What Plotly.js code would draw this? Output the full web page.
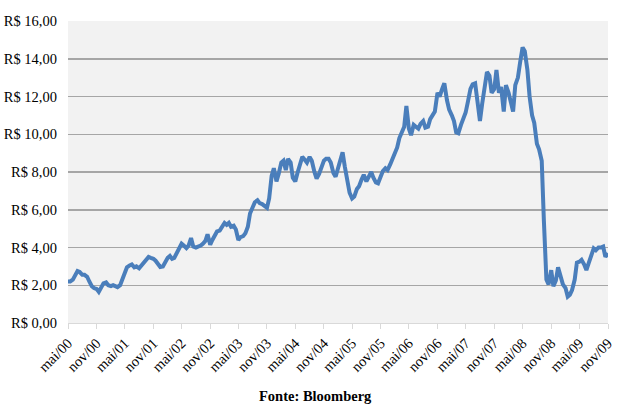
<!DOCTYPE html>
<html>
<head>
<meta charset="utf-8">
<script src="https://cdn.plot.ly/plotly-3.0.1.min.js"></script>
<style>html,body{margin:0;padding:0;background:#fff;}#chart{width:624px;height:404px;}</style>
</head>
<body>
<div id="chart"></div>
<script>
// Semi-monthly observation dates (1st and 15th of each month), May 2000 - Nov 2009
const dates = [
"2000-05-01","2000-05-15","2000-06-01","2000-06-15","2000-07-01","2000-07-15","2000-08-01","2000-08-15","2000-09-01","2000-09-15","2000-10-01","2000-10-15","2000-11-01","2000-11-15","2000-12-01","2000-12-15",
"2001-01-01","2001-01-15","2001-02-01","2001-02-15","2001-03-01","2001-03-15","2001-04-01","2001-04-15","2001-05-01","2001-05-15","2001-06-01","2001-06-15","2001-07-01","2001-07-15","2001-08-01","2001-08-15","2001-09-01","2001-09-15","2001-10-01","2001-10-15","2001-11-01","2001-11-15","2001-12-01","2001-12-15",
"2002-01-01","2002-01-15","2002-02-01","2002-02-15","2002-03-01","2002-03-15","2002-04-01","2002-04-15","2002-05-01","2002-05-15","2002-06-01","2002-06-15","2002-07-01","2002-07-15","2002-08-01","2002-08-15","2002-09-01","2002-09-15","2002-10-01","2002-10-15","2002-11-01","2002-11-15","2002-12-01","2002-12-15",
"2003-01-01","2003-01-15","2003-02-01","2003-02-15","2003-03-01","2003-03-15","2003-04-01","2003-04-15","2003-05-01","2003-05-15","2003-06-01","2003-06-15","2003-07-01","2003-07-15","2003-08-01","2003-08-15","2003-09-01","2003-09-15","2003-10-01","2003-10-15","2003-11-01","2003-11-15","2003-12-01","2003-12-15",
"2004-01-01","2004-01-15","2004-02-01","2004-02-15","2004-03-01","2004-03-15","2004-04-01","2004-04-15","2004-05-01","2004-05-15","2004-06-01","2004-06-15","2004-07-01","2004-07-15","2004-08-01","2004-08-15","2004-09-01","2004-09-15","2004-10-01","2004-10-15","2004-11-01","2004-11-15","2004-12-01","2004-12-15",
"2005-01-01","2005-01-15","2005-02-01","2005-02-15","2005-03-01","2005-03-15","2005-04-01","2005-04-15","2005-05-01","2005-05-15","2005-06-01","2005-06-15","2005-07-01","2005-07-15","2005-08-01","2005-08-15","2005-09-01","2005-09-15","2005-10-01","2005-10-15","2005-11-01","2005-11-15","2005-12-01","2005-12-15",
"2006-01-01","2006-01-15","2006-02-01","2006-02-15","2006-03-01","2006-03-15","2006-04-01","2006-04-15","2006-05-01","2006-05-15","2006-06-01","2006-06-15","2006-07-01","2006-07-15","2006-08-01","2006-08-15","2006-09-01","2006-09-15","2006-10-01","2006-10-15","2006-11-01","2006-11-15","2006-12-01","2006-12-15",
"2007-01-01","2007-01-15","2007-02-01","2007-02-15","2007-03-01","2007-03-15","2007-04-01","2007-04-15","2007-05-01","2007-05-15","2007-06-01","2007-06-15","2007-07-01","2007-07-15","2007-08-01","2007-08-15","2007-09-01","2007-09-15","2007-10-01","2007-10-15","2007-11-01","2007-11-15","2007-12-01","2007-12-15",
"2008-01-01","2008-01-15","2008-02-01","2008-02-15","2008-03-01","2008-03-15","2008-04-01","2008-04-15","2008-05-01","2008-05-15","2008-06-01","2008-06-15","2008-07-01","2008-07-15","2008-08-01","2008-08-15","2008-09-01","2008-09-15","2008-10-01","2008-10-15","2008-11-01","2008-11-15","2008-12-01","2008-12-15",
"2009-01-01","2009-01-15","2009-02-01","2009-02-15","2009-03-01","2009-03-15","2009-04-01","2009-04-15","2009-05-01","2009-05-15","2009-06-01","2009-06-15","2009-07-01","2009-07-15","2009-08-01","2009-08-15","2009-09-01","2009-09-15","2009-10-01","2009-10-15","2009-11-01"
];

// Price (R$)
const prices = [
2.2,2.2,2.3,2.5,2.75,2.7,2.55,2.55,2.45,2.2,1.95,1.85,1.8,1.65,1.85,2.1,
2.15,2.0,1.95,2.0,1.95,1.9,2.0,2.3,2.65,2.95,3.05,3.1,2.95,3.0,2.9,3.05,3.2,3.35,3.5,3.45,3.4,3.3,3.1,2.97,
3.0,3.25,3.45,3.55,3.4,3.45,3.7,3.95,4.2,4.1,3.97,4.1,4.5,4.05,4.0,4.05,4.1,4.2,4.35,4.7,4.15,4.4,4.7,4.85,
4.9,5.1,5.3,5.2,5.3,5.1,5.15,4.95,4.4,4.55,4.6,4.75,5.1,5.8,6.1,6.4,6.5,6.35,6.3,6.2,6.1,6.6,7.8,8.2,
7.5,7.9,8.5,8.6,8.1,8.7,8.5,7.7,7.5,7.95,8.5,8.8,8.65,8.5,8.8,8.6,8.0,7.65,7.9,8.2,8.6,8.7,8.7,8.5,
7.95,7.75,8.3,8.6,9.05,8.3,7.5,6.9,6.6,6.7,7.1,7.25,7.6,7.85,7.5,7.7,8.0,7.7,7.45,7.4,7.75,8.05,8.2,8.1,
8.4,8.7,9.0,9.3,9.8,10.1,10.4,11.5,10.3,9.95,10.5,10.4,10.3,10.55,10.7,10.35,10.4,10.8,11.05,11.2,12.2,12.0,12.4,12.7,
11.8,11.3,11.0,10.7,10.1,10.05,10.5,10.85,11.15,11.7,12.4,12.65,12.7,11.8,10.7,11.6,12.5,13.3,13.1,12.2,12.4,13.4,12.2,12.5,
11.2,12.6,12.2,11.8,11.2,12.6,13.0,13.8,14.6,14.4,13.4,12.0,11.0,10.6,9.5,9.2,8.6,5.4,2.3,2.05,2.8,1.95,2.25,2.95,
2.4,2.05,1.85,1.4,1.5,1.75,2.3,3.2,3.25,3.35,3.1,2.8,3.2,3.5,3.95,3.85,4.0,4.0,4.05,3.5,3.7
];

const xTickVals = ["2000-05-01","2000-11-01","2001-05-01","2001-11-01","2002-05-01","2002-11-01","2003-05-01","2003-11-01","2004-05-01","2004-11-01","2005-05-01","2005-11-01","2006-05-01","2006-11-01","2007-05-01","2007-11-01","2008-05-01","2008-11-01","2009-05-01","2009-11-01"];
const xTickText = ["mai/00","nov/00","mai/01","nov/01","mai/02","nov/02","mai/03","nov/03","mai/04","nov/04","mai/05","nov/05","mai/06","nov/06","mai/07","nov/07","mai/08","nov/08","mai/09","nov/09"];
const yTickVals = [0,2,4,6,8,10,12,14,16];
const yTickText = ["R$ 0,00","R$ 2,00","R$ 4,00","R$ 6,00","R$ 8,00","R$ 10,00","R$ 12,00","R$ 14,00","R$ 16,00"];
const sourceText = "Fonte: Bloomberg";

const serif = "Liberation Serif, Times New Roman, serif";

Plotly.newPlot("chart", [{
  x: dates, y: prices, type: "scatter", mode: "lines",
  line: {color: "#4a7ebb", width: 4},
  hoverinfo: "skip"
}], {
  width: 624, height: 404,
  margin: {l: 68, r: 16, t: 21, b: 81},
  paper_bgcolor: "#ffffff",
  plot_bgcolor: "#f2f2f2",
  showlegend: false,
  font: {family: serif, color: "#000", size: 14.5},
  xaxis: {
    type: "date",
    range: ["2000-05-01", "2009-11-01"],
    tickmode: "array", tickvals: xTickVals, ticktext: xTickText,
    tickangle: -45,
    ticks: "outside", ticklen: 5, tickcolor: "#d9d9d9", tickwidth: 1,
    showgrid: false, showline: true, linecolor: "#d9d9d9", linewidth: 1,
    tickfont: {family: serif, size: 14.5, color: "#000"},
    zeroline: false
  },
  yaxis: {
    range: [0, 16],
    tickmode: "array", tickvals: yTickVals, ticktext: yTickText,
    showgrid: true, gridcolor: "#a6a6a6", gridwidth: 1.5,
    zeroline: true, zerolinecolor: "#d9d9d9", zerolinewidth: 1,
    showline: false, ticks: "", ticklabelstandoff: 10,
    tickfont: {family: serif, size: 14.5, color: "#000"}
  },
  annotations: [{
    text: "<b>" + sourceText + "</b>",
    xref: "paper", yref: "paper", x: 0.458, y: -0.242,
    xanchor: "center", yanchor: "middle", showarrow: false,
    font: {family: serif, size: 14.5, color: "#000"}
  }]
}, {staticPlot: true, displayModeBar: false});
</script>
</body>
</html>
